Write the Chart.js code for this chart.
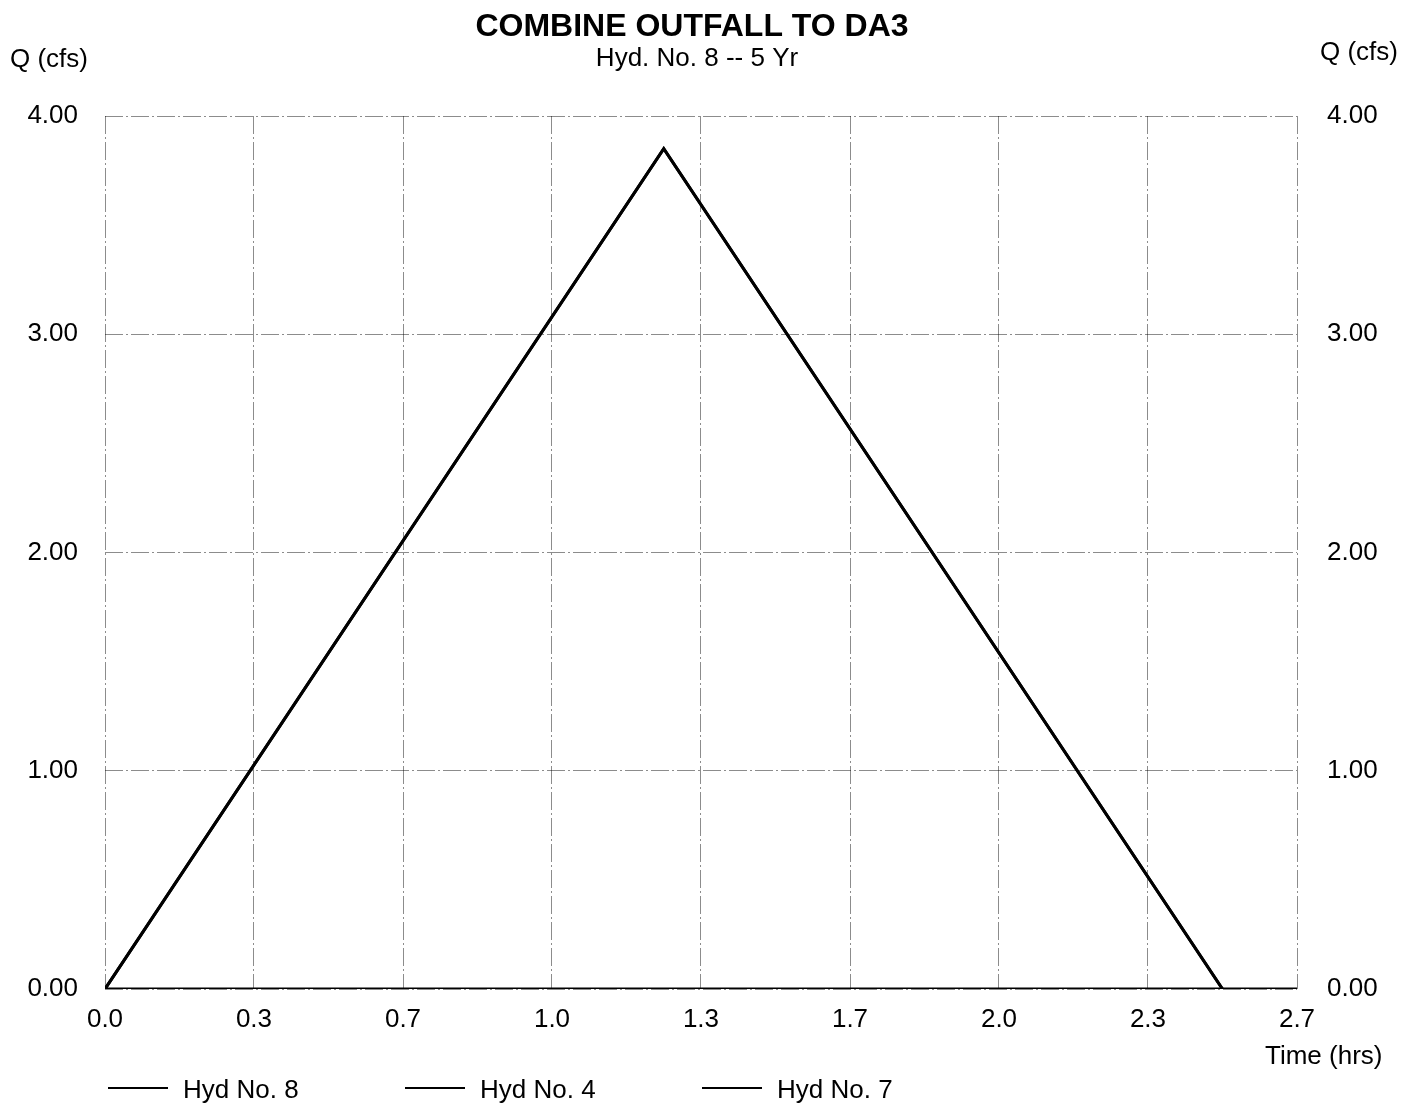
<!DOCTYPE html>
<html>
<head>
<meta charset="utf-8">
<title>COMBINE OUTFALL TO DA3</title>
<script src="https://cdn.jsdelivr.net/npm/chart.js@4.4.1/dist/chart.umd.min.js"></script>
<style>
    html, body { margin: 0; padding: 0; background: #fff; }
</style>
</head>
<body>
<canvas id="hydChart" width="1418" height="1106"></canvas>
<script>
// chart data
const timeTicks = [0, 0.3333, 0.6667, 1, 1.3333, 1.6667, 2, 2.3333, 2.6667];
const timeLabels = ["0.0", "0.3", "0.7", "1.0", "1.3", "1.7", "2.0", "2.3", "2.7"];
const flowTicks = [0, 1, 2, 3, 4];

const hyd8Time = [0, 1.25, 2.5];
const hyd8Flow = [0, 3.85, 0];
const hyd4Time = [0, 1.25, 2.5];
const hyd4Flow = [0, 3.85, 0];
const hyd7Time = [0, 2.6667];
const hyd7Flow = [0, 0];

const seriesNames = ["Hyd No. 8", "Hyd No. 4", "Hyd No. 7"];

const FONT = '"Liberation Sans", Arial, Helvetica, sans-serif';

function toPoints(xs, ys) {
    return xs.map((x, i) => ({ x: x, y: ys[i] }));
}

// titles, axis captions and legend drawn straight on the canvas
const annotations = {
    id: "annotations",
    afterDraw(chart) {
        const ctx = chart.ctx;
        ctx.save();
        ctx.fillStyle = "#000";
        ctx.textBaseline = "alphabetic";

        ctx.textAlign = "center";
        ctx.font = "bold 32px " + FONT;
        ctx.fillText("COMBINE OUTFALL TO DA3", 692, 36);
        ctx.font = "26px " + FONT;
        ctx.fillText("Hyd. No. 8 -- 5 Yr", 697, 66);

        ctx.textAlign = "left";
        ctx.font = "26px " + FONT;
        ctx.fillText("Q (cfs)", 10, 67);
        ctx.fillText("Q (cfs)", 1320, 60);
        ctx.fillText("Time (hrs)", 1265, 1064);

        // legend
        chart.data.datasets.forEach((ds, i) => {
            const x = 108 + i * 297;
            ctx.strokeStyle = ds.borderColor;
            ctx.lineWidth = 2;
            ctx.beginPath();
            ctx.moveTo(x, 1088);
            ctx.lineTo(x + 60, 1088);
            ctx.stroke();
            ctx.fillText(ds.label, x + 75, 1098);
        });
        ctx.restore();
    }
};

const gridStyle = {
    color: "rgba(0, 0, 0, 0.45)",
    lineWidth: 1,
    drawTicks: false
};

new Chart(document.getElementById("hydChart"), {
    type: "line",
    data: {
        datasets: [
            { label: seriesNames[0], data: toPoints(hyd8Time, hyd8Flow) },
            { label: seriesNames[1], data: toPoints(hyd4Time, hyd4Flow) },
            { label: seriesNames[2], data: toPoints(hyd7Time, hyd7Flow) },
        ],
    },
    options: {
        responsive: false,
        animation: false,
        layout: { padding: { top: 116, bottom: 0, left: 0, right: 0 } },
        font: { family: FONT },
        elements: {
            line: { borderColor: "#000", borderWidth: 3, tension: 0 },
            point: { radius: 0 },
        },
        datasets: {
            line: { borderColor: "#000", borderWidth: 3, pointRadius: 0, fill: false },
        },
        plugins: {
            legend: { display: false },
            tooltip: { enabled: false },
        },
        scales: {
            x: {
                type: "linear",
                min: timeTicks[0],
                max: timeTicks[timeTicks.length - 1],
                grid: gridStyle,
                border: { display: false, dash: [18, 3, 2, 3] },
                afterBuildTicks: (scale) => {
                    scale.ticks = timeTicks.map((v) => ({ value: v }));
                },
                afterFit: (scale) => { scale.height = 117; },
                ticks: {
                    color: "#000",
                    padding: 15,
                    maxRotation: 0,
                    autoSkip: false,
                    font: { family: FONT, size: 26 },
                    callback: (value, index) => timeLabels[index],
                },
            },
            y: {
                position: "left",
                min: flowTicks[0],
                max: flowTicks[flowTicks.length - 1],
                grid: gridStyle,
                border: { display: false, dash: [18, 3, 2, 3] },
                afterBuildTicks: (scale) => {
                    scale.ticks = flowTicks.map((v) => ({ value: v }));
                },
                afterFit: (scale) => { scale.width = 105; },
                ticks: {
                    color: "#000",
                    padding: 27,
                    font: { family: FONT, size: 26 },
                    callback: (value) => Number(value).toFixed(2),
                },
            },
            y2: {
                position: "right",
                min: flowTicks[0],
                max: flowTicks[flowTicks.length - 1],
                grid: { display: false, drawTicks: false },
                border: { display: false },
                afterBuildTicks: (scale) => {
                    scale.ticks = flowTicks.map((v) => ({ value: v }));
                },
                afterFit: (scale) => { scale.width = 121; },
                ticks: {
                    color: "#000",
                    padding: 30,
                    font: { family: FONT, size: 26 },
                    callback: (value) => Number(value).toFixed(2),
                },
            },
        },
    },
    plugins: [annotations],
});
</script>
</body>
</html>
